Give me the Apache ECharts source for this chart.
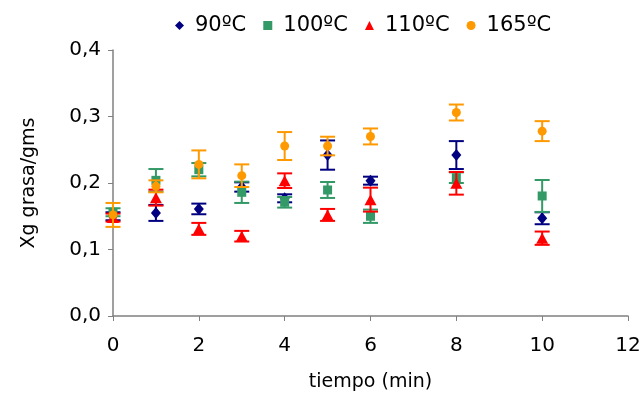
<!DOCTYPE html>
<html><head><meta charset="utf-8">
<script src="https://cdn.jsdelivr.net/npm/echarts@6/dist/echarts.min.js"></script>
<style>html,body{margin:0;padding:0;background:#fff}#c{width:641px;height:396px}</style>
</head><body><div id="c"></div>
<script>
const times = [0, 1, 2, 3, 4, 5, 6, 8, 10];
const seriesNames = ['90ºC', '100ºC', '110ºC', '165ºC'];
const v90  = [0.150, 0.155, 0.161, 0.194, 0.177, 0.242, 0.2035, 0.242, 0.147];
const e90  = [0.006, 0.012, 0.008, 0.007, 0.006, 0.022, 0.006, 0.021, 0.009];
const v100 = [0.156, 0.204, 0.220, 0.186, 0.171, 0.1895, 0.150, 0.208, 0.1805];
const e100 = [0.006, 0.017, 0.010, 0.016, 0.008, 0.012, 0.010, 0.008, 0.024];
const v110 = [0.148, 0.178, 0.131, 0.120, 0.2035, 0.152, 0.175, 0.1995, 0.117];
const e110 = [0.006, 0.012, 0.009, 0.008, 0.011, 0.009, 0.018, 0.017, 0.010];
const v165 = [0.152, 0.195, 0.228, 0.211, 0.2556, 0.2556, 0.270, 0.306, 0.278];
const e165 = [0.018, 0.009, 0.021, 0.017, 0.021, 0.014, 0.012, 0.012, 0.015];
const yTicks = ['0,0', '0,1', '0,2', '0,3', '0,4'];

const values = [v90, v100, v110, v165];
const errs = [e90, e100, e110, e165];
const colors = ['#000080', '#339966', '#FF0000', '#FF9900'];
const symbols = ['diamond', 'rect', 'triangle', 'circle'];
const symSizes = [[10, 12], 9, [12, 11], 9];
const FONT = 'DejaVu Sans';

const series = [];
values.forEach((vals, i) => {
  series.push({
    type: 'custom',
    name: seriesNames[i] + '_err',
    z: 2 + i * 2,
    data: times.map((t, k) => [t, vals[k] - errs[i][k], vals[k] + errs[i][k]]),
    renderItem: function (params, api) {
      const lo = api.coord([api.value(0), api.value(1)]);
      const hi = api.coord([api.value(0), api.value(2)]);
      const hw = 7.5;
      const st = { stroke: colors[i], lineWidth: 2 };
      return {
        type: 'group',
        children: [
          { type: 'line', shape: { x1: lo[0], y1: lo[1], x2: hi[0], y2: hi[1] }, style: st },
          { type: 'line', shape: { x1: lo[0] - hw, y1: lo[1], x2: lo[0] + hw, y2: lo[1] }, style: st },
          { type: 'line', shape: { x1: hi[0] - hw, y1: hi[1], x2: hi[0] + hw, y2: hi[1] }, style: st }
        ]
      };
    },
    encode: { x: 0, y: [1, 2] },
    silent: true
  });
  series.push({
    type: 'scatter',
    name: seriesNames[i],
    z: 3 + i * 2,
    symbol: symbols[i],
    symbolSize: symSizes[i],
    itemStyle: { color: colors[i], opacity: 1 },
    data: times.map((t, k) => [t, vals[k]])
  });
});

const chart = echarts.init(document.getElementById('c'), null, { renderer: 'canvas' });
chart.setOption({
  animation: false,
  backgroundColor: '#fff',
  textStyle: { fontFamily: FONT },
  legend: {
    data: seriesNames.map((n, i) => ({ name: n, icon: symbols[i] })),
    top: 10,
    left: 170,
    itemWidth: 9,
    itemHeight: 9,
    itemGap: 17,
    textStyle: { fontFamily: FONT, fontSize: 21, color: '#000', padding: [0, 0, 0, 6] }
  },
  grid: { left: 113, right: 13, top: 50, bottom: 80, containLabel: false, outerBoundsMode: 'none' },
  xAxis: {
    type: 'value', min: 0, max: 12, interval: 2,
    name: 'tiempo (min)', nameLocation: 'middle', nameGap: 57,
    nameTextStyle: { fontFamily: FONT, fontSize: 19, color: '#000' },
    axisLine: { lineStyle: { color: '#808080', width: 1.5 } },
    axisTick: { show: true, length: 5, lineStyle: { color: '#808080' } },
    axisLabel: { fontFamily: FONT, fontSize: 20, color: '#000', margin: 20 },
    splitLine: { show: false }
  },
  yAxis: {
    type: 'value', min: 0, max: 0.4, interval: 0.1,
    name: 'Xg grasa/gms', nameLocation: 'middle', nameGap: 74, nameRotate: 90,
    nameTextStyle: { fontFamily: FONT, fontSize: 19, color: '#000' },
    axisLine: { show: true, lineStyle: { color: '#808080', width: 1.5 } },
    axisTick: { show: true, length: 5, lineStyle: { color: '#808080' } },
    axisLabel: { fontFamily: FONT, fontSize: 20, color: '#000', margin: 12,
      formatter: function (v) { return yTicks[Math.round(v * 10)]; } },
    splitLine: { show: false }
  },
  series: series
});
</script></body></html>
